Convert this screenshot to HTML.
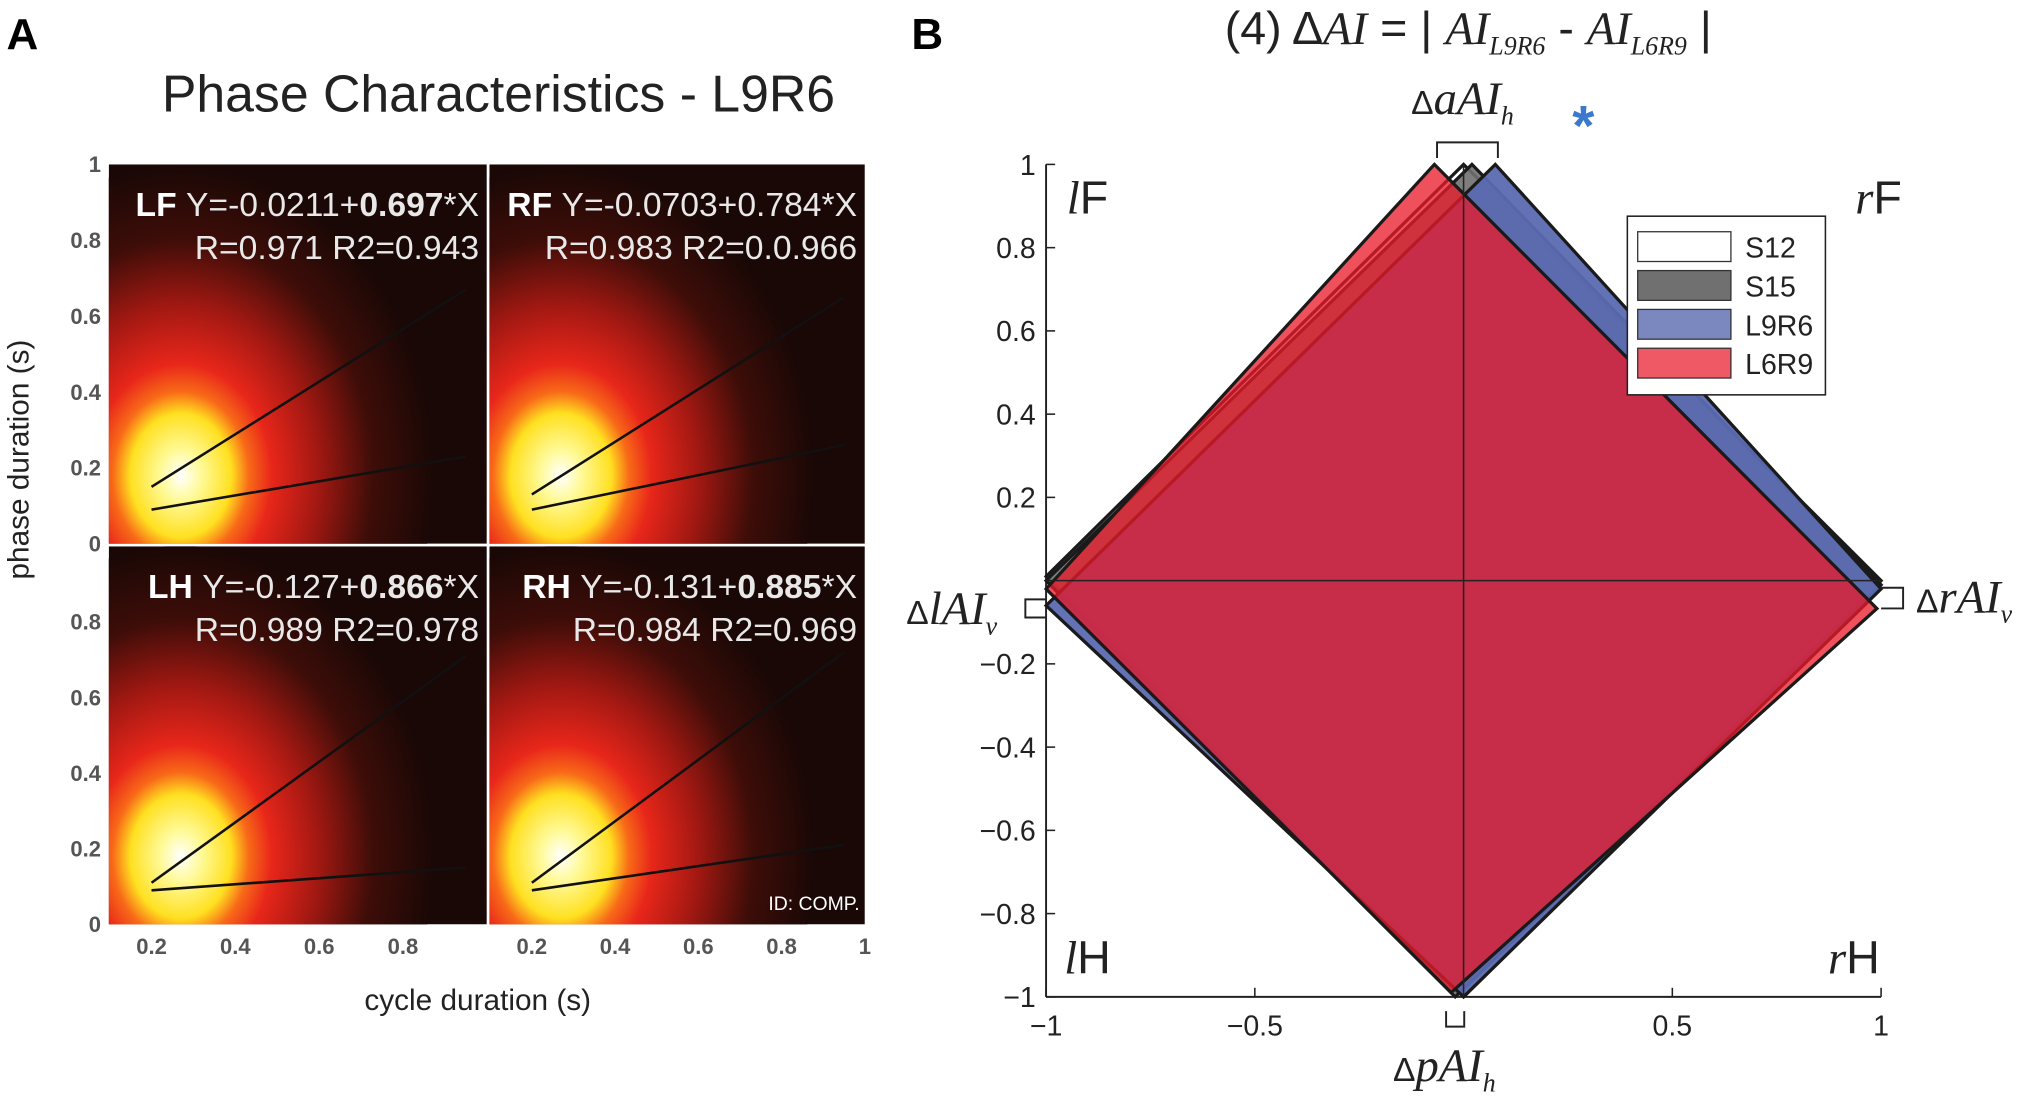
<!DOCTYPE html>
<html><head><meta charset="utf-8"><style>
html,body{margin:0;padding:0;background:#fff;overflow:hidden;width:2030px;height:1103px}
svg{display:block}
text{font-family:"Liberation Sans",sans-serif}
.serif{font-family:"Liberation Serif",serif;font-style:italic}
</style></head><body>
<svg id="fig" width="2030" height="1103" viewBox="0 0 1568 852" xmlns="http://www.w3.org/2000/svg">
<defs>
<radialGradient id="heat" cx="0.5" cy="0.5" r="0.5">
<stop offset="0" stop-color="#ffffff"/>
<stop offset="0.08" stop-color="#fffa9a"/>
<stop offset="0.2" stop-color="#ffe020"/>
<stop offset="0.27" stop-color="#f86a18"/>
<stop offset="0.36" stop-color="#e8261a"/>
<stop offset="0.55" stop-color="#a01812"/>
<stop offset="0.76" stop-color="#3e0d08"/>
<stop offset="1" stop-color="#1a0806"/>
</radialGradient>
<clipPath id="cpTL"><rect x="84" y="127" width="292" height="293"/></clipPath>
<clipPath id="cpTR"><rect x="378" y="127" width="290" height="293"/></clipPath>
<clipPath id="cpBL"><rect x="84" y="422" width="292" height="292"/></clipPath>
<clipPath id="cpBR"><rect x="378" y="422" width="290" height="292"/></clipPath>
</defs>

<text x="5" y="38" font-size="34" font-weight="bold">A</text>
<text x="704" y="38" font-size="34" font-weight="bold">B</text>
<text x="385" y="86" font-size="40" text-anchor="middle" fill="#222">Phase Characteristics - L9R6</text>

<g id="panelA"></g>

<text transform="translate(22,355) rotate(-90)" font-size="23" text-anchor="middle" fill="#222">phase duration (s)</text>
<text x="369" y="780" font-size="23" text-anchor="middle" fill="#222">cycle duration (s)</text>

<g id="panelB"></g>

<text x="946" y="34" font-size="36" fill="#222"><tspan>(4) Δ</tspan><tspan class="serif">AI</tspan><tspan> = | </tspan><tspan class="serif">AI</tspan><tspan class="serif" font-size="20" dy="8">L9R6</tspan><tspan dy="-8"> - </tspan><tspan class="serif">AI</tspan><tspan class="serif" font-size="20" dy="8">L6R9</tspan><tspan dy="-8"> |</tspan></text>
</svg>
<script>
const NS='http://www.w3.org/2000/svg';
function mk(tag,attrs,parent){const e=document.createElementNS(NS,tag);for(const k in attrs)e.setAttribute(k,attrs[k]);parent.appendChild(e);return e;}

/* ---------- Panel A data ---------- */
const panelNames=['LF','RF','LH','RH'];
const eqText=['Y=-0.0211+','Y=-0.0703+0.784*X','Y=-0.127+','Y=-0.131+'];
const eqBold=['0.697','','0.866','0.885'];
const rText=['R=0.971 R2=0.943','R=0.983 R2=0.0.966','R=0.989 R2=0.978','R=0.984 R2=0.969'];
const swingStart=[0.15,0.13,0.11,0.11];
const swingEnd=[0.67,0.65,0.71,0.72];
const stanceStart=[0.09,0.09,0.09,0.09];
const stanceEnd=[0.23,0.26,0.15,0.21];
const xTicksA=[0.2,0.4,0.6,0.8];
const xTicksA2=[0.2,0.4,0.6,0.8,1];
const yTicksA=[0,0.2,0.4,0.6,0.8];
const lineX0=0.2, lineX1=0.95;

const pA=document.getElementById('panelA');
const boxes=[{x:84,y:127,w:292,h:293,c:'cpTL'},{x:378,y:127,w:290,h:293,c:'cpTR'},{x:84,y:422,w:292,h:292,c:'cpBL'},{x:378,y:422,w:290,h:292,c:'cpBR'}];
function ax(b,v){return b.x+(v-0.098)/(1.0-0.098)*b.w;}
function ay(b,v){return b.y+b.h-v*b.h;}
boxes.forEach((b,i)=>{
  const g=mk('g',{'clip-path':'url(#'+b.c+')'},pA);
  
  
  mk('rect',{x:b.x,y:b.y,width:b.w,height:b.h,fill:'#1a0806'},g);
  const cx=ax(b,0.27), cy=ay(b,0.18);
  mk('ellipse',{cx:cx,cy:cy,rx:195,ry:240,fill:'url(#heat)'},g);
  const l1=mk('line',{x1:ax(b,lineX0),y1:ay(b,swingStart[i]),x2:ax(b,lineX1),y2:ay(b,swingEnd[i]),stroke:'#111','stroke-width':2},g);
  
  
  const l2=mk('line',{x1:ax(b,lineX0),y1:ay(b,stanceStart[i]),x2:ax(b,lineX1),y2:ay(b,stanceEnd[i]),stroke:'#111','stroke-width':2},g);
  
  
  const right=b.x+b.w-6;
  const t=mk('text',{x:right,y:b.y+40,'font-size':26,'text-anchor':'end',fill:'#e8e8e8'},pA);
  
  
  const lab=mk('tspan',{'font-weight':'bold',fill:'#fff'},t);lab.textContent=panelNames[i]+' ';
  const s1=mk('tspan',{},t);s1.textContent=eqText[i];
  if(eqBold[i]){const s2=mk('tspan',{'font-weight':'bold'},t);s2.textContent=eqBold[i];const s3=mk('tspan',{},t);s3.textContent='*X';}
  const r=mk('text',{x:right,y:b.y+73,'font-size':26,'text-anchor':'end',fill:'#e8e8e8'},pA);
  
  
  r.textContent=rText[i];
});
const idt=mk('text',{x:664,y:703,'font-size':15,'text-anchor':'end',fill:'#fff'},pA);


idt.textContent='ID: COMP.';
[boxes[0],boxes[2]].forEach((b,j)=>{
  const labels=j===0?yTicksA.concat([1]):yTicksA;
  labels.forEach(v=>{const t=mk('text',{x:78,y:ay(b,v)+6,'font-size':17,'font-weight':'bold','text-anchor':'end',fill:'#555'},pA);
    
    
    t.textContent=String(v);});
});
xTicksA.forEach(v=>{const t=mk('text',{x:ax(boxes[2],v),y:737,'font-size':17,'font-weight':'bold','text-anchor':'middle',fill:'#555'},pA);
  
  
  t.textContent=String(v);});
xTicksA2.forEach(v=>{const t=mk('text',{x:ax(boxes[3],v),y:737,'font-size':17,'font-weight':'bold','text-anchor':'middle',fill:'#555'},pA);
  
  
  t.textContent=String(v);});

/* ---------- Panel B data ---------- */
const seriesNames=['S12','S15','L9R6','L6R9'];
const topX=[0,0.02,0.076,-0.07], topY=[1,1,1,1];
const rightX=[1,1,1,0.99], rightY=[0,-0.01,-0.02,-0.067];
const bottomX=[0,-0.02,0.0,-0.03], bottomY=[-1,-1,-1,-0.99];
const leftX=[-1,-1,-1,-1], leftY=[0.01,0.0,-0.06,-0.02];
const xTicksB=[-1,-0.5,0.5,1];
const yTicksB=[1,0.8,0.6,0.4,0.2,-0.2,-0.4,-0.6,-0.8,-1];
const fills=['#ffffff','#707070','#5a6ab0','rgb(233,25,41)'];
const opac=[0.9,0.9,0.95,0.76];

const pB=document.getElementById('panelB');
const X0=808,X1=1453,Y0=127,Y1=770;
function bx(v){return X0+(v+1)/2*(X1-X0);}
function by(v){return Y1-(v+1)/2*(Y1-Y0);}
mk('line',{x1:bx(-1),y1:by(1),x2:bx(-1),y2:by(-1),stroke:'#222','stroke-width':1.5},pB);
mk('line',{x1:bx(-1),y1:by(-1),x2:bx(1),y2:by(-1),stroke:'#222','stroke-width':1.5},pB);
yTicksB.forEach(v=>{
  mk('line',{x1:bx(-1),y1:by(v),x2:bx(-1)+7,y2:by(v),stroke:'#222','stroke-width':1.2},pB);
  const t=mk('text',{x:bx(-1)-8,y:by(v)+8,'font-size':22,'text-anchor':'end',fill:'#222'},pB);
  
  
  t.textContent=v<0?'\u2212'+Math.abs(v):String(v);
});
xTicksB.forEach(v=>{
  mk('line',{x1:bx(v),y1:by(-1),x2:bx(v),y2:by(-1)-7,stroke:'#222','stroke-width':1.2},pB);
  const t=mk('text',{x:bx(v),y:by(-1)+30,'font-size':22,'text-anchor':'middle',fill:'#222'},pB);
  
  
  t.textContent=v<0?'\u2212'+Math.abs(v):String(v);
});
for(let i=0;i<4;i++){
  const pts=[[topX[i],topY[i]],[rightX[i],rightY[i]],[bottomX[i],bottomY[i]],[leftX[i],leftY[i]]].map(p=>bx(p[0])+','+by(p[1])).join(' ');
  const pg=mk('polygon',{points:pts,fill:fills[i],'fill-opacity':opac[i],stroke:'#1a1a1a','stroke-width':2.5,'stroke-linejoin':'miter'},pB);
  
  
}
mk('line',{x1:bx(0),y1:by(1),x2:bx(0),y2:by(-1),stroke:'#222','stroke-width':1.2},pB);
mk('line',{x1:bx(-1),y1:by(0),x2:bx(1),y2:by(0),stroke:'#222','stroke-width':1.2},pB);

const lg=mk('g',{},pB);


mk('rect',{x:1257,y:167,width:153,height:138,fill:'#fff',stroke:'#222','stroke-width':1.2},lg);
for(let i=0;i<4;i++){
  const e=mk('g',{},lg);
  
  
  mk('rect',{x:1265,y:179+i*30,width:72,height:23,fill:fills[i],'fill-opacity':i===3?0.72:(i===2?0.8:1),stroke:'#333','stroke-width':1},e);
  const t=mk('text',{x:1348,y:199+i*30,'font-size':22,fill:'#222'},e);t.textContent=seriesNames[i];
}
[['lF',824,165],['rF',1433,165],['lH',822,752],['rH',1412,752]].forEach(c=>{
  const t=mk('text',{x:c[1],y:c[2],'font-size':36,fill:'#222'},pB);
  
  
  const a=mk('tspan',{'font-style':'italic','font-family':'Liberation Serif'},t);a.textContent=c[0][0];
  const b=mk('tspan',{},t);b.textContent=c[0][1];
});
function ann(x,y,main,sub,name){
  const t=mk('text',{x:x,y:y,'font-size':36,fill:'#222'},pB);
  
  
  const d=mk('tspan',{'font-size':26},t);d.textContent='Δ';
  const m=mk('tspan',{class:'serif'},t);m.textContent=main;
  const s=mk('tspan',{class:'serif','font-size':20,dy:8},t);s.textContent=sub;
}
ann(1090,88,'aAI','h','annotation-aai-h');
ann(1076,835,'pAI','h','annotation-pai-h');
ann(700,482,'lAI','v','annotation-lai-v');
ann(1480,473,'rAI','v','annotation-rai-v');
const br=mk('path',{d:'M1110,122 V110 H1157 V122 M1117,781 V793 H1131 V781 M808,463 H792 V477 H808 M1453,454 H1470 V470 H1453',fill:'none',stroke:'#222','stroke-width':1.5},pB);


const star=mk('text',{x:1223,y:112,'font-size':44,'font-weight':'bold','text-anchor':'middle',fill:'#3b78d0'},pB);


star.textContent='*';
</script>
</body></html>
